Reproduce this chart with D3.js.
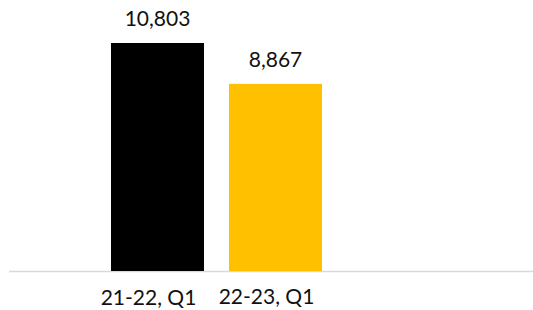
<!DOCTYPE html>
<html><head><meta charset="utf-8">
<script src="https://cdn.jsdelivr.net/npm/d3@7"></script>
<style>body{margin:0;background:#fff}svg{display:block}text{font-family:Lato,"Open Sans",sans-serif;fill:#111}</style>
</head><body><svg id="c" width="533" height="310"></svg>
<script>
const categories = ["21-22, Q1", "22-23, Q1"];
const values = [10803, 8867];
const colors = ["#000000", "#FFC000"];

const svg = d3.select("#c");
const x = d3.scaleBand().domain(categories).range([111, 322]).paddingInner(0.212).paddingOuter(0);
const y = d3.scaleLinear().domain([0, 10803]).range([271, 43]);

svg.append("line").attr("x1", 9).attr("x2", 533).attr("y1", 271.5).attr("y2", 271.5)
  .attr("stroke", "#d9d9d9").attr("stroke-width", 1.5);

svg.selectAll("rect.bar").data(values).join("rect").attr("class","bar")
  .attr("x", (d,i) => x(categories[i]))
  .attr("width", x.bandwidth())
  .attr("y", d => y(d))
  .attr("height", d => y(0) - y(d))
  .attr("fill", (d,i) => colors[i]);

svg.selectAll("text.val").data(values).join("text").attr("class","val")
  .attr("x", (d,i) => x(categories[i]) + x.bandwidth()/2)
  .attr("y", d => y(d) - 17)
  .attr("text-anchor", "middle").attr("font-size", 21)
  .text(d => d3.format(",")(d));

svg.selectAll("text.cat").data(categories).join("text").attr("class","cat")
  .attr("x", d => x(d) + x.bandwidth()/2 - 9)
  .attr("y", (d,i) => 305 - i*1.5)
  .attr("text-anchor", "middle").attr("font-size", 21)
  .text(d => d);
</script></body></html>
